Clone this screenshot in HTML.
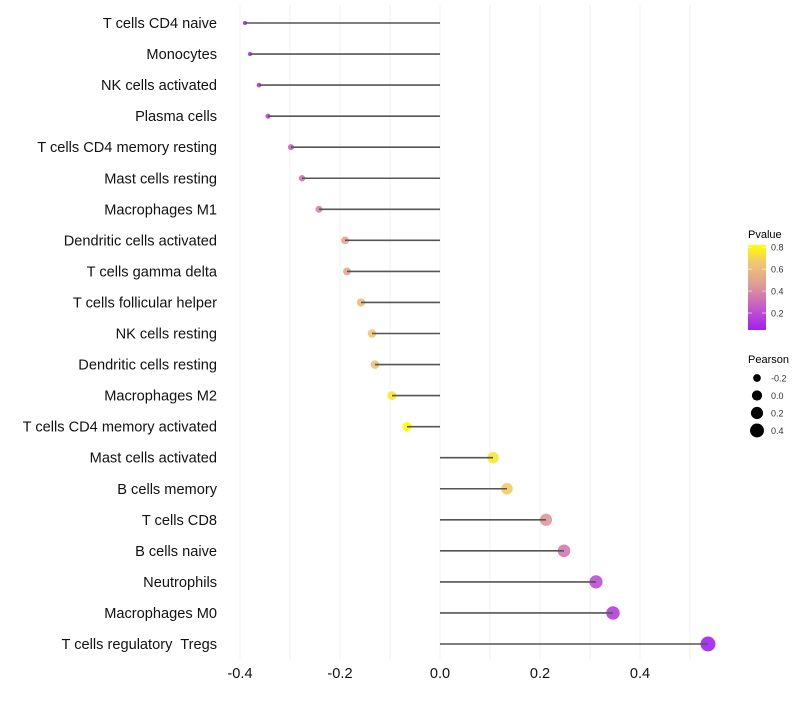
<!DOCTYPE html>
<html><head><meta charset="utf-8"><style>
body{margin:0;background:#fff;font-family:"Liberation Sans",sans-serif}
</style></head><body>
<svg id="chart" width="800" height="700" xmlns="http://www.w3.org/2000/svg" font-family="Liberation Sans, sans-serif">
<g id="grid"></g>
<g id="marks"></g>
<g id="ylab"></g>
<g id="xlab"></g>
<g>
<defs><linearGradient id="pg" x1="0" y1="1" x2="0" y2="0">
<stop offset="0" stop-color="#A020F0"/><stop offset="0.3" stop-color="#C862C2"/><stop offset="0.55" stop-color="#E0A092"/><stop offset="0.8" stop-color="#F2C870"/><stop offset="1" stop-color="#FFFF00"/></linearGradient></defs>
<text x="748" y="238" font-size="11">Pvalue</text>
<rect x="748" y="245" width="18" height="85" fill="url(#pg)"/>
<g id="cbticks"></g>
</g>
<g id="sizeleg">
<text x="748" y="363" font-size="11">Pearson</text>
</g>
</svg>
<script>
const categories=["T cells CD4 naive","Monocytes","NK cells activated","Plasma cells","T cells CD4 memory resting","Mast cells resting","Macrophages M1","Dendritic cells activated","T cells gamma delta","T cells follicular helper","NK cells resting","Dendritic cells resting","Macrophages M2","T cells CD4 memory activated","Mast cells activated","B cells memory","T cells CD8","B cells naive","Neutrophils","Macrophages M0","T cells regulatory  Tregs"];
const pearson=[-0.39,-0.38,-0.362,-0.344,-0.298,-0.276,-0.242,-0.19,-0.186,-0.158,-0.136,-0.13,-0.096,-0.066,0.106,0.134,0.212,0.248,0.312,0.346,0.536];
const pvalue=[0.06,0.1,0.14,0.18,0.28,0.33,0.38,0.5,0.5,0.6,0.65,0.63,0.75,0.82,0.75,0.68,0.45,0.35,0.2,0.15,0.05];
const xTicks=[-0.4,-0.2,0.0,0.2,0.4];
const xTickLabels=["-0.4","-0.2","0.0","0.2","0.4"];
const pTicks=[0.2,0.4,0.6,0.8];
const sizeLegend=[-0.2,0.0,0.2,0.4];
const NS="http://www.w3.org/2000/svg";
const X=v=>440+v*500;
const Y=i=>23+i*31.05;
const pY=p=>330-(p-0.045)/(0.82-0.045)*85;
const vmin=Math.min(...pearson),vmax=Math.max(...pearson);
const R=v=>Math.sqrt(4+(v-vmin)/(vmax-vmin)*52);
function lerp(a,b,t){return a.map((x,i)=>Math.round(x+(b[i]-x)*t));}
const stops=[[0,[160,32,240]],[0.3,[200,98,194]],[0.55,[224,160,146]],[0.8,[242,200,112]],[1,[255,255,0]]];
function col(p){const t=Math.max(0,Math.min(1,(p-0.045)/(0.82-0.045)));
for(let k=1;k<stops.length;k++){if(t<=stops[k][0]){const a=stops[k-1],b=stops[k];return `rgb(${lerp(a[1],b[1],(t-a[0])/(b[0]-a[0]))})`;}}
return 'rgb(255,255,0)';}
function mk(tag,at,parent){const e=document.createElementNS(NS,tag);for(const k in at)e.setAttribute(k,at[k]);parent.appendChild(e);return e;}
const grid=document.getElementById('grid');
for(let v=-0.4;v<=0.55;v+=0.1){const g=mk('line',{x1:X(v),x2:X(v),y1:5,y2:660,stroke:'#f0f0f0','stroke-width':1},grid);

}
const marks=document.getElementById('marks'),ylab=document.getElementById('ylab'),xlab=document.getElementById('xlab');
categories.forEach((c,i)=>{
const pt=mk('circle',{cx:X(pearson[i]),cy:Y(i),r:R(pearson[i]),fill:col(pvalue[i]),'fill-opacity':0.9},marks);


const ln=mk('line',{x1:X(0),x2:X(pearson[i]),y1:Y(i),y2:Y(i),stroke:'#555','stroke-width':1.6},marks);


const t=mk('text',{x:217,y:Y(i)+5,'text-anchor':'end','font-size':14.6,fill:'#111',style:'white-space:pre'},ylab);t.textContent=c;


});
xTicks.forEach((v,i)=>{const t=mk('text',{x:X(v),y:678,'text-anchor':'middle','font-size':14.6,fill:'#111'},xlab);t.textContent=xTickLabels[i];

});
const cb=document.getElementById('cbticks');
pTicks.forEach(p=>{mk('line',{x1:748,x2:752,y1:pY(p),y2:pY(p),stroke:'#fff','stroke-opacity':0.6},cb);mk('line',{x1:762,x2:766,y1:pY(p),y2:pY(p),stroke:'#fff','stroke-opacity':0.6},cb);
const t=mk('text',{x:771,y:pY(p)+3.5,'font-size':9,fill:'#333'},cb);t.textContent=p.toFixed(1);

});
const sl=document.getElementById('sizeleg');
sizeLegend.forEach((v,i)=>{const y=378+i*17.5;mk('circle',{cx:757,cy:y,r:R(v),fill:'#000'},sl);
const t=mk('text',{x:771,y:y+3.5,'font-size':9,fill:'#333'},sl);t.textContent=v.toFixed(1);

});
</script>
</body></html>
